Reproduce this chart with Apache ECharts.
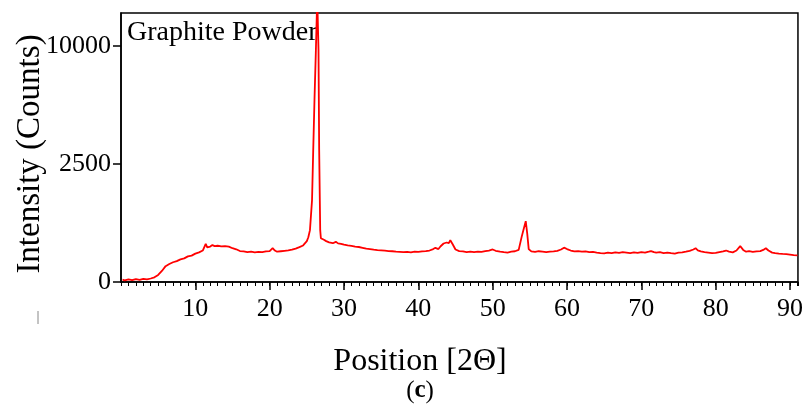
<!DOCTYPE html>
<html>
<head>
<meta charset="utf-8">
<script src="https://cdn.jsdelivr.net/npm/echarts@6/dist/echarts.min.js"></script>
<style>html,body{margin:0;padding:0;background:#fff;}#c{width:806px;height:410px;}</style>
</head>
<body>
<div id="c"></div>
<script>
// 2-theta positions (degrees)
const angles = [
 0.2,0.5,1.0,1.5,2.0,2.5,3.0,3.5,4.0,4.5,5.0,5.5,6.0,6.5,7.0,7.5,8.0,8.5,9.0,9.5,
 10.0,10.5,11.0,11.4,11.6,12.0,12.3,12.6,13.0,13.5,14.0,14.5,15.0,15.5,16.0,16.5,17.0,17.5,18.0,18.5,
 19.0,19.5,20.0,20.4,20.7,21.0,21.5,22.0,22.5,23.0,23.5,24.0,24.5,25.0,25.2,25.42,25.70,25.86,26.03,26.22,
 26.40,26.57,26.66,26.80,26.89,27.0,27.3,27.6,28.0,28.5,28.9,29.2,29.6,30.0,30.5,31.0,31.5,32.0,32.5,33.0,
 33.5,34.0,34.5,35.0,35.5,36.0,36.5,37.0,37.5,38.0,38.5,39.0,39.5,40.0,40.5,41.0,41.5,42.0,42.3,42.7,
 43.0,43.4,43.8,44.1,44.3,44.6,45.0,45.5,46.0,46.5,47.0,47.5,48.0,48.5,49.0,49.5,50.0,50.4,51.0,51.5,
 52.0,52.5,53.0,53.5,53.9,54.2,54.45,54.65,54.85,55.2,55.7,56.2,56.7,57.2,57.7,58.2,58.7,59.2,59.6,60.0,
 60.5,61.0,61.5,62.0,62.5,63.0,63.5,64.0,64.5,65.0,65.5,66.0,66.5,67.0,67.5,68.0,68.5,69.0,69.5,70.0,
 70.5,71.0,71.3,71.7,72.0,72.5,73.0,73.5,74.0,74.5,75.0,75.5,76.0,76.5,77.0,77.3,77.6,78.0,78.5,79.0,
 79.5,80.0,80.5,81.0,81.4,81.8,82.3,82.8,83.3,83.7,84.1,84.5,85.0,85.5,86.0,86.4,86.75,87.1,87.6,88.0,
 88.5,89.0,89.5,90.0,90.5,91.0
];
// intensity (counts)
const counts = [
 1.0,0.5,1.2,0.6,1.5,0.8,1.8,1.2,2.2,4,9,22,45,58,70,78,92,100,118,125,
 145,158,178,262,215,225,245,232,236,228,232,225,205,192,172,168,160,165,157,164,
 160,168,172,205,178,165,170,175,180,188,200,218,240,300,360,483,1205,3133,5963,9697,
 14500,9697,3133,483,344,340,320,300,282,270,290,268,262,250,240,235,225,220,210,200,
 195,188,182,180,176,172,170,165,163,160,163,158,165,162,168,172,178,195,210,195,
 230,266,280,270,314,260,190,172,168,160,166,160,165,162,170,178,190,175,165,160,
 156,165,170,185,366,520,665,420,195,168,162,170,165,160,165,168,175,190,212,195,
 178,168,172,165,168,160,163,156,150,148,155,150,158,152,160,155,150,157,152,160,
 155,165,172,160,155,160,150,156,150,145,155,158,165,175,190,205,180,168,160,155,
 150,152,160,168,178,165,158,178,232,185,165,170,162,168,172,185,205,178,155,150,
 145,142,140,135,130,128
];
const xTickLabels = [10,20,30,40,50,60,70,80,90];
const yTickLabels = [0,2500,10000];

const serif = '"Liberation Serif", "DejaVu Serif", serif';
const data = angles.map((a, i) => [a, Math.sqrt(counts[i])]);
const yTickPos = yTickLabels.map(v => Math.sqrt(v));

const chart = echarts.init(document.getElementById('c'), null, {renderer: 'canvas'});
chart.setOption({
  animation: false,
  backgroundColor: '#fff',
  grid: {left: 121, right: 7, top: 13, bottom: 128, show: true, borderColor: '#000', borderWidth: 1.5, containLabel: false},
  xAxis: [{
    type: 'value', min: 0, max: 91.07, interval: 10,
    axisLine: {show: true, lineStyle: {color: '#000', width: 1.5}},
    axisTick: {show: true, length: 8, inside: false, lineStyle: {color: '#000', width: 1.5}, customValues: xTickLabels},
    axisLabel: {fontFamily: serif, fontSize: 26, color: '#000', margin: 14, customValues: xTickLabels},
    splitLine: {show: false}
  }, {
    type: 'value', min: 0, max: 91.07, interval: 1, position: 'bottom',
    axisLine: {show: false},
    axisTick: {show: true, length: 4, lineStyle: {color: '#000', width: 1}},
    axisLabel: {show: false},
    splitLine: {show: false}
  }],
  yAxis: {
    type: 'value', min: 0, max: 114,
    axisLine: {show: true, lineStyle: {color: '#000', width: 1.5}},
    axisTick: {show: true, length: 8, lineStyle: {color: '#000', width: 1.5}, customValues: yTickPos},
    axisLabel: {fontFamily: serif, fontSize: 26, color: '#000', margin: 10, customValues: yTickPos,
      formatter: v => String(Math.round(v * v))},
    splitLine: {show: false}
  },
  series: [{
    type: 'line', data: data, showSymbol: false, symbol: 'none', clip: true,
    lineStyle: {color: '#ff0000', width: 1.8}, xAxisIndex: 0
  }],
  graphic: [
    {type: 'text', x: 127, y: 33, style: {text: 'Graphite Powder', font: '28px ' + serif, fill: '#000', textVerticalAlign: 'middle'}},
    {type: 'text', x: 30, y: 154, rotation: Math.PI / 2, style: {text: 'Intensity (Counts)', font: '33px ' + serif, fill: '#000', textAlign: 'center', textVerticalAlign: 'middle'}},
    {type: 'text', x: 420, y: 362, style: {text: 'Position [2Θ]', font: '32px ' + serif, fill: '#000', textAlign: 'center', textVerticalAlign: 'middle'}},
    {type: 'text', x: 420, y: 391, style: {text: '({b|c})', textAlign: 'center', textVerticalAlign: 'middle',
      font: '25px ' + serif, fill: '#000', rich: {b: {fontFamily: serif, fontSize: 25, fontWeight: 'bold', fill: '#000'}}}},
    {type: 'line', shape: {x1: 38, y1: 311, x2: 38, y2: 324}, style: {stroke: '#888', lineWidth: 1}}
  ]
});
</script>
</body>
</html>
